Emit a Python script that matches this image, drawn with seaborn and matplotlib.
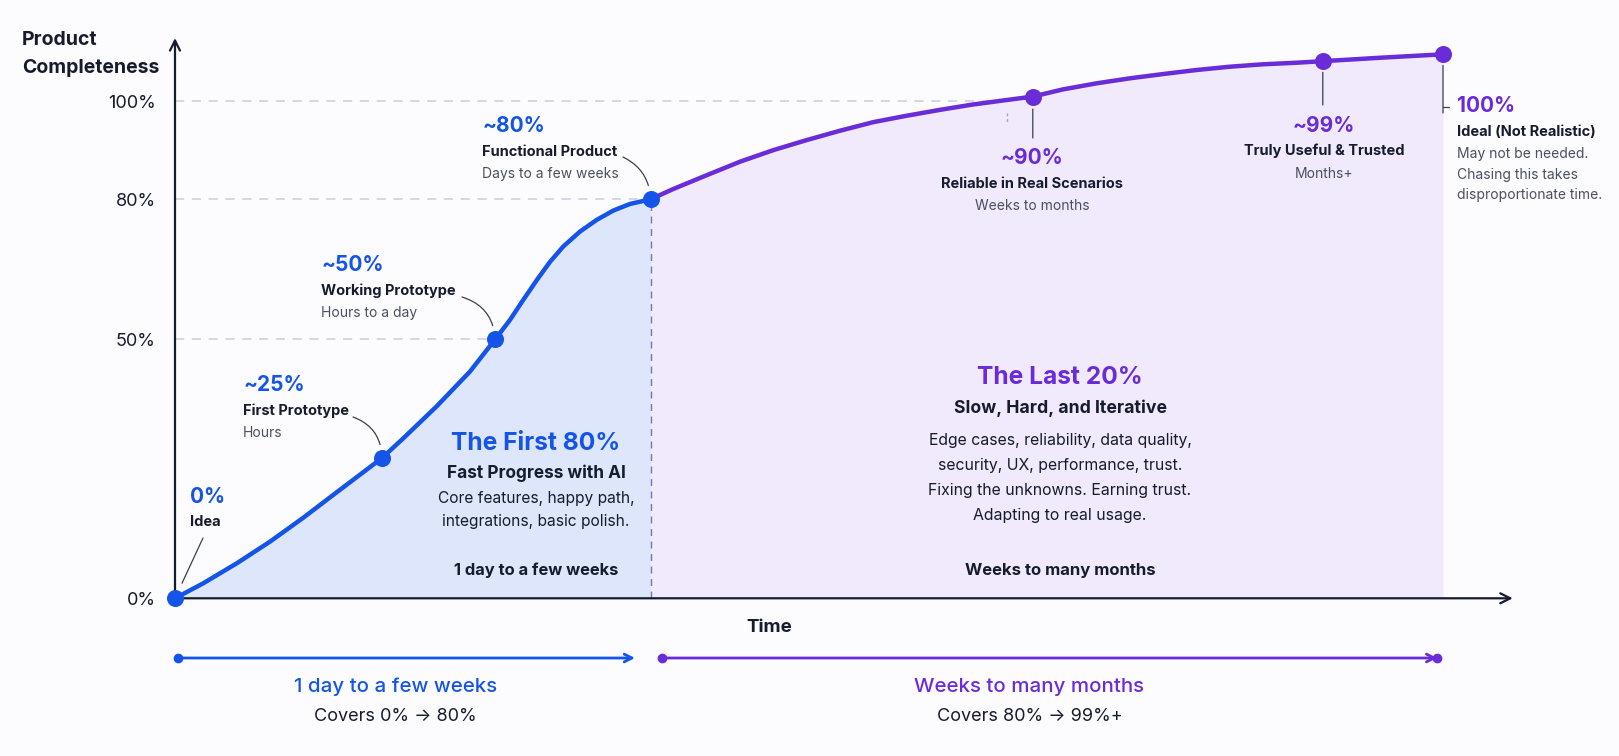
"""
The 80/20 of building a product with AI: completeness over time
"""
import matplotlib.pyplot as plt
import seaborn as sns
import numpy as np

sns.set_theme(style="white")
plt.rcParams['font.family'] = ['Inter', 'DejaVu Sans']

W, H = 1619, 756

# milestones (time in relative units, completeness)
milestone_t = [0.0, 16.3, 25.24, 37.5, 67.65, 90.52, 100.0]
milestone_y = [0.0, 27.05, 50.0, 80.0, 100.9, 108.1, 109.5]

# points
first_t = [0.0, 2.23, 4.87, 7.49, 10.12, 12.75, 16.3, 18.0, 20.64, 23.26, 25.24,
           26.42, 27.47, 28.53, 29.57, 30.62, 31.94, 33.26, 34.57, 35.88, 37.5]
first_y = [0.0, 2.9, 6.76, 10.94, 15.57, 20.48, 27.05, 30.9, 37.1, 43.8, 50.0,
           54.2, 58.5, 62.7, 66.6, 69.9, 73.1, 75.6, 77.6, 79.0, 80.0]
last_t = [37.5, 39.3, 41.93, 44.56, 47.18, 49.82, 52.44, 55.07, 57.7, 60.33, 62.96,
          65.59, 67.65, 70.06, 72.69, 75.32, 77.94, 80.58, 83.2, 85.83, 88.46, 90.52,
          95.03, 100.0]
last_y = [80.0, 82.1, 84.9, 87.65, 90.0, 92.05, 93.95, 95.7, 97.0, 98.2, 99.3,
          100.2, 100.9, 102.38, 103.6, 104.62, 105.49, 106.31, 106.98, 107.47, 107.79,
          108.1, 108.8, 109.5]

y_ticks = [0, 50, 80, 100]
y_tick_labels = ["0%", "50%", "80%", "100%"]

BLUE = "#1454e8"
PURPLE = "#6a2bd9"
DARK = "#161b2e"
GREY = "#4a5060"
BLUE_FILL = "#dde6fb"
PURPLE_FILL = "#f0eafc"
GRID = "#c9cde0"

# the y axis of the picture is not evenly spaced between its ticks
scale_vals = [-40, 0, 50, 80, 100, 130]
scale_pos = [-40 * 5.176, 0, 258.8, 399.0, 497.3, 497.3 + 30 * 4.915]


def fwd(v):
    return np.interp(v, scale_vals, scale_pos)


def inv(p):
    return np.interp(p, scale_pos, scale_vals)


def px(x, y):
    """pixel position (top-left origin) -> figure fraction"""
    return (x / W, 1 - y / H)


fig = plt.figure(figsize=(W / 100, H / 100), dpi=100)
fig.patch.set_facecolor("#fcfcfe")
ax = fig.add_axes([0, 0, 1, 1])
ax.set_facecolor("none")
ax.set_yscale('function', functions=(fwd, inv))
ax.set_xlim(-175 / 12.68, (W - 175) / 12.68)
ax.set_ylim(-30.47, 120.55)

# fills under the curve
ax.fill_between(first_t, first_y, 0, color=BLUE_FILL, lw=0, zorder=1)
ax.fill_between(last_t, last_y, 0, color=PURPLE_FILL, lw=0, zorder=1)

# dashed reference lines
ax.plot([0, milestone_t[2]], [50, 50], ls=(0, (6, 5)), color=GRID, lw=1.1, zorder=2)
ax.plot([0, milestone_t[3]], [80, 80], ls=(0, (6, 5)), color=GRID, lw=1.1, zorder=2)
ax.plot([0, 65.5], [100, 100], ls=(0, (6, 5)), color=GRID, lw=1.1, zorder=2)
ax.plot([milestone_t[3], milestone_t[3]], [0, 80], ls=(0, (5, 4)), color="#6f7aa8",
        lw=1.0, zorder=2)
ax.plot([1006.5 / W] * 2, [1 - 113 / H, 1 - 123 / H], ls=(0, (2, 2)), color="#9aa3c6",
        lw=1.0, transform=fig.transFigure)

# curves and milestone points
sns.lineplot(x=first_t, y=first_y, color=BLUE, lw=3.2, ax=ax, zorder=4, sort=False,
             solid_joinstyle='round', solid_capstyle='round')
sns.lineplot(x=last_t, y=last_y, color=PURPLE, lw=3.2, ax=ax, zorder=4, sort=False,
             solid_joinstyle='round', solid_capstyle='round')
ax.scatter(milestone_t[:4], milestone_y[:4], s=150, color=BLUE, zorder=5, lw=0)
ax.scatter(milestone_t[4:], milestone_y[4:], s=150, color=PURPLE, zorder=5, lw=0)

# axes with arrow heads
for s in ax.spines.values():
    s.set_color("none")
ax.spines['left'].set_position(('data', 0))
ax.set_xticks([])
ax.set_yticks(y_ticks)
ax.set_yticklabels(y_tick_labels, fontsize=13, color=DARK)
ax.tick_params(axis='y', length=0, pad=14)
arrow = dict(arrowstyle="->", color=DARK, lw=1.6, mutation_scale=18, shrinkA=0, shrinkB=0)
ax.annotate("", xy=(105.5, 0), xytext=(0, 0), arrowprops=arrow, zorder=3)
ax.annotate("", xy=(0, 112.8), xytext=(0, 0), arrowprops=arrow, zorder=3)

t = fig.transFigure
ax.text(*px(22, 40), "Product", transform=t, fontsize=14,
        fontweight='bold', color=DARK, va='center')
ax.text(*px(22, 68), "Completeness", transform=t, fontsize=14,
        fontweight='bold', color=DARK, va='center')
ax.text(*px(769, 627), "Time", transform=t, fontsize=13.5,
        fontweight='bold', color=DARK, va='center', ha='center')


def label(x, y, pct, title, sub, color, ha='left', sub_lines=None):
    ax.text(*px(x, y), pct, transform=t, fontsize=15, fontweight='bold', color=color,
            ha=ha, va='center')
    ax.text(*px(x, y + 25.5), title, transform=t, fontsize=10.5, fontweight='bold',
            color=DARK, ha=ha, va='center')
    lines = sub_lines if sub_lines is not None else ([sub] if sub else [])
    for i, s in enumerate(lines):
        ax.text(*px(x, y + 48 + i * 20.7), s, transform=t, fontsize=10, color=GREY,
                ha=ha, va='center')


label(190, 497, "0%", "Idea", None, BLUE)
label(243, 385, "~25%", "First Prototype", "Hours", BLUE)
label(321, 265, "~50%", "Working Prototype", "Hours to a day", BLUE)
label(482, 126, "~80%", "Functional Product", "Days to a few weeks", BLUE)
label(1032, 158, "~90%", "Reliable in Real Scenarios", "Weeks to months", PURPLE, ha='center')
label(1324, 125.5, "~99%", "Truly Useful & Trusted", "Months+", PURPLE, ha='center')
label(1457, 106, "100%", "Ideal (Not Realistic)", None, PURPLE,
      sub_lines=["May not be needed.", "Chasing this takes", "disproportionate time."])

# leader lines from labels to points
lead = dict(arrowstyle="-", color="#3a3f4f", lw=0.9, shrinkA=0)
ax.annotate("", xy=(milestone_t[0], milestone_y[0]), xytext=px(203, 538),
            textcoords='figure fraction', arrowprops=dict(lead, shrinkB=12))
for i, start, rad in [(1, (353, 417), -0.35), (2, (462, 297), -0.35), (3, (623, 157), -0.3)]:
    ax.annotate("", xy=(milestone_t[i], milestone_y[i]), xytext=px(*start),
                textcoords='figure fraction',
                arrowprops=dict(lead, shrinkB=10, connectionstyle=f"arc3,rad={rad}"))
for i, bottom, gap in [(4, 138, 9), (5, 105, 8), (6, 113, 8)]:
    ax.annotate("", xy=(milestone_t[i], milestone_y[i]),
                xytext=px(175 + 12.68 * milestone_t[i], bottom),
                textcoords='figure fraction', arrowprops=dict(lead, shrinkB=gap))
ax.plot([1443.3 / W, 1449 / W], [1 - 107 / H, 1 - 107 / H], color="#3a3f4f", lw=0.9,
        transform=t)

# phase descriptions
ax.text(*px(536, 444), "The First 80%", transform=t, fontsize=17.7, fontweight='bold',
        color=BLUE, ha='center', va='center')
ax.text(*px(536, 473), "Fast Progress with AI", transform=t, fontsize=12.4,
        fontweight='bold', color=DARK, ha='center', va='center')
for i, s in enumerate(["Core features, happy path,", "integrations, basic polish."]):
    ax.text(*px(536, 498 + i * 23.5), s, transform=t, fontsize=11.2, color=DARK,
            ha='center', va='center')
ax.text(*px(536, 570), "1 day to a few weeks", transform=t, fontsize=11.9,
        fontweight='bold', color=DARK, ha='center', va='center')

ax.text(*px(1060, 378), "The Last 20%", transform=t, fontsize=17.7, fontweight='bold',
        color=PURPLE, ha='center', va='center')
ax.text(*px(1060, 408), "Slow, Hard, and Iterative", transform=t, fontsize=12.7,
        fontweight='bold', color=DARK, ha='center', va='center')
for i, s in enumerate(["Edge cases, reliability, data quality,",
                       "security, UX, performance, trust.",
                       "Fixing the unknowns. Earning trust.",
                       "Adapting to real usage."]):
    ax.text(*px(1060, 441 + i * 24.7), s, transform=t, fontsize=11.4, color=DARK,
            ha='center', va='center')
ax.text(*px(1060, 570), "Weeks to many months", transform=t, fontsize=12,
        fontweight='bold', color=DARK, ha='center', va='center')

# time span arrows below the axis
for x0, x1, col in [(177.6, 635, BLUE), (661.8, 1437.3, PURPLE)]:
    ax.annotate("", xy=px(x1, 658), xytext=px(x0, 658), xycoords='figure fraction',
                textcoords='figure fraction',
                arrowprops=dict(arrowstyle="->", color=col, lw=2, mutation_scale=14,
                                shrinkA=0, shrinkB=0))
    ax.plot([x0 / W], [1 - 658 / H], 'o', ms=6, color=col, transform=t)
ax.plot([1437.3 / W], [1 - 658 / H], 'o', ms=6, color=PURPLE, transform=t)

ax.text(*px(395.5, 687), "1 day to a few weeks", transform=t, fontsize=14.7,
        fontweight='medium', color=BLUE, ha='center', va='center')
ax.text(*px(395.5, 716), "Covers 0% \u2192 80%", transform=t, fontsize=13,
        color=DARK, ha='center', va='center')
ax.text(*px(1029.4, 687), "Weeks to many months", transform=t, fontsize=14.7,
        fontweight='medium', color=PURPLE, ha='center', va='center')
ax.text(*px(1029.4, 716), "Covers 80% \u2192 99%+", transform=t, fontsize=13,
        color=DARK, ha='center', va='center')

plt.savefig("out.png", dpi=100, facecolor=fig.get_facecolor())
